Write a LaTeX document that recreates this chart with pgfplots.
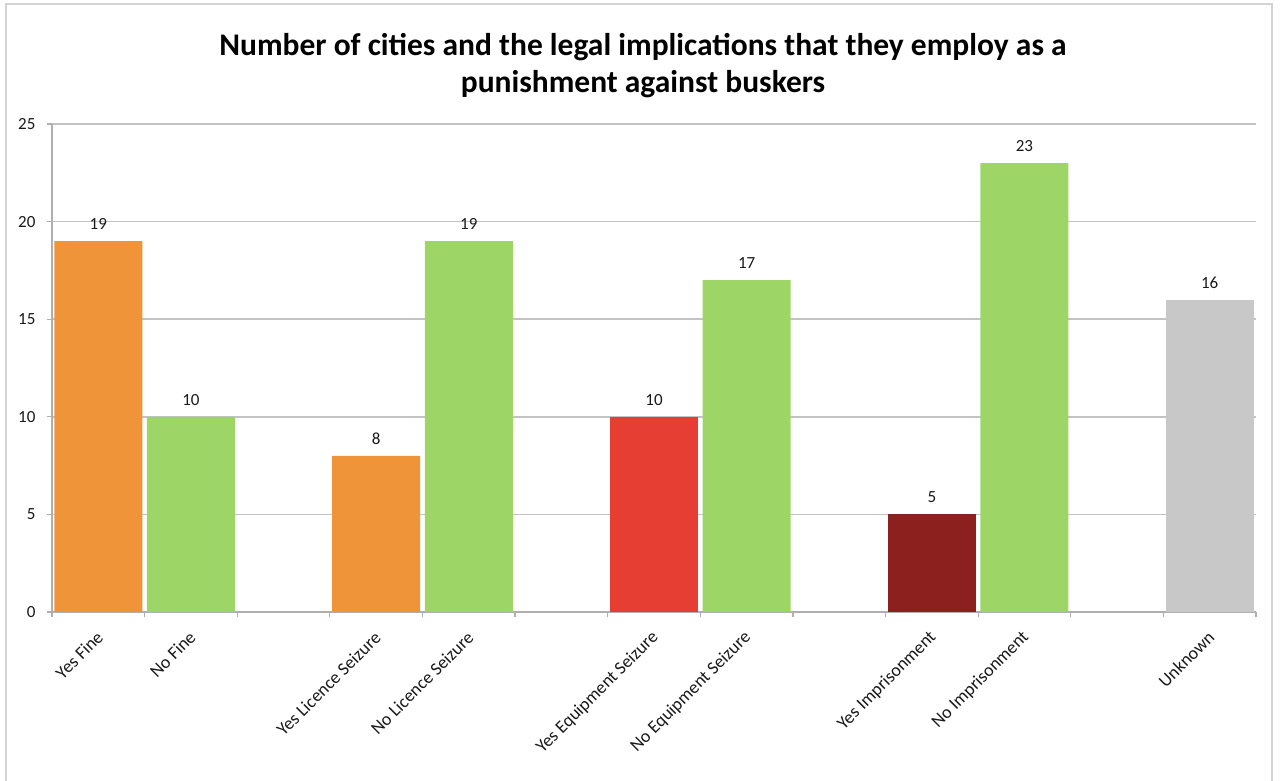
\documentclass[border=0pt]{standalone}
\usepackage{pgfplots}
\pgfplotsset{compat=1.18}
\usepackage{fontspec}
\setmainfont{Carlito}
\definecolor{cOrange}{RGB}{240,148,58}
\definecolor{cGreen}{RGB}{158,213,103}
\definecolor{cRed}{RGB}{230,62,50}
\definecolor{cDark}{RGB}{140,32,30}
\definecolor{cGray}{RGB}{200,200,200}
\definecolor{gridgray}{RGB}{195,195,195}
\definecolor{axisgray}{RGB}{175,175,175}
\definecolor{framegray}{RGB}{212,212,212}
\definecolor{txt}{RGB}{25,25,25}
\begin{document}
\begin{tikzpicture}
\useasboundingbox (0bp,0bp) rectangle (1280bp,781bp);
\draw[framegray, line width=2bp] (6bp,-10bp) -- (6bp,777bp) -- (1272bp,777bp) -- (1272bp,-10bp);
\node[anchor=base, font=\fontsize{31.5bp}{38bp}\selectfont\bfseries, text=black] at (643bp,725bp) {Number of cities and the legal implications that they employ as a};
\node[anchor=base, font=\fontsize{31.5bp}{38bp}\selectfont\bfseries, text=black] at (643bp,688bp) {punishment against buskers};
\begin{axis}[
  at={(52bp,169bp)}, anchor=south west,
  scale only axis, width=1204bp, height=488bp,
  xmin=-0.5, xmax=12.5, ymin=0, ymax=25,
  axis lines*=left,
  axis line style={axisgray, line width=1.5bp},
  ytick={0,5,...,25},
  ymajorgrids, grid style={gridgray, line width=1.5bp},
  xtick={-0.5,0.5,...,12.5},
  x tick label as interval,
  xticklabels={Yes Fine,No Fine,,Yes Licence Seizure,No Licence Seizure,,Yes Equipment Seizure,No Equipment Seizure,,Yes Imprisonment,No Imprisonment,,Unknown},
  tick align=outside, major tick length=5bp,
  tick style={axisgray, line width=1.2bp},
  /pgf/number format/assume math mode=true,
  ticklabel style={font=\fontsize{17bp}{20bp}\selectfont, text=txt},
  xticklabel style={font=\fontsize{18bp}{21bp}\selectfont, xshift=4bp, yshift=-15bp, rotate=45, anchor=east},
  yticklabel style={xshift=-8bp},
  nodes near coords,
  nodes near coords style={font=\fontsize{17bp}{20bp}\selectfont, text=txt, anchor=south, yshift=8bp},
  every axis plot/.append style={ybar, bar width=0.95, bar shift=0pt, draw=none},
  clip=false,
]
\addplot[fill=cOrange] coordinates {(0,19) (3,8)};
\addplot[fill=cGreen] coordinates {(1,10) (4,19) (7,17) (10,23)};
\addplot[fill=cRed] coordinates {(6,10)};
\addplot[fill=cDark] coordinates {(9,5)};
\addplot[fill=cGray] coordinates {(12,16)};
\end{axis}
\end{tikzpicture}
\end{document}
